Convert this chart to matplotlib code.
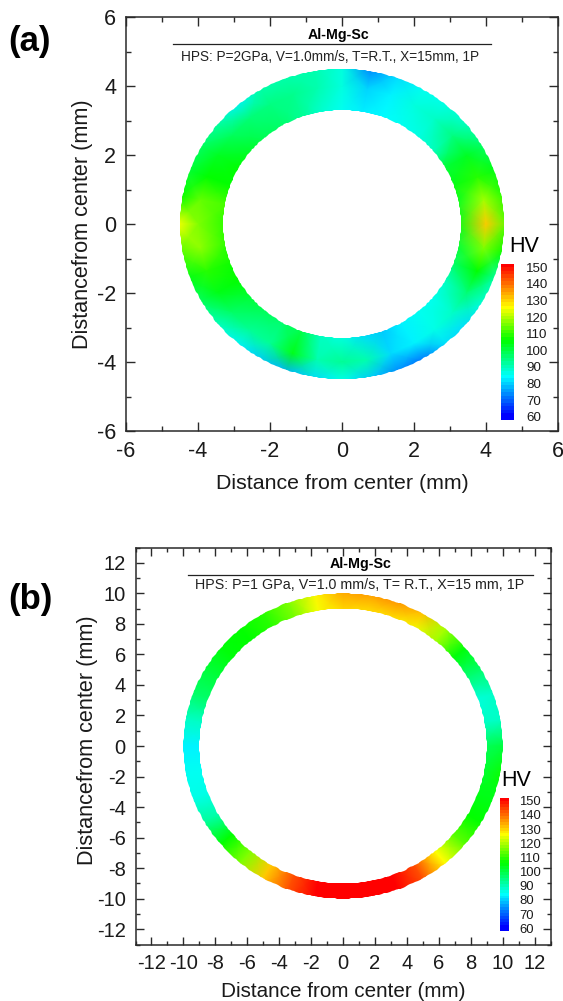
#!/usr/bin/env python3
"""Hardness maps (HV) of the Al-Mg-Sc HPS rings, 2 GPa and 1 GPa."""

import numpy as np
import matplotlib
matplotlib.use("Agg")
import matplotlib.pyplot as plt
from matplotlib.colors import LinearSegmentedColormap, Normalize
from matplotlib.patches import PathPatch
from matplotlib.path import Path
from matplotlib.ticker import MultipleLocator

plt.rcParams["font.family"] = ["Liberation Sans", "DejaVu Sans"]

# ---------------------- values ----------------------
ANGLES_DEG = list(range(0, 360, 10))

# ring (a): HV along three circles, one value per angle
A_RADII = [3.3, 4.0, 4.5]
A_INNER = [103, 102, 103, 100, 88, 85, 84, 83, 82, 84, 87, 92, 96, 98, 102, 105, 105, 110,
           108, 108, 106, 105, 101, 98, 96, 98, 88, 85, 80, 78, 82, 84, 84, 87, 95, 100]
A_MID = [130, 118, 108, 102, 94, 88, 86, 82, 79, 86, 90, 93, 94, 95, 97, 102, 105, 113,
         115, 116, 108, 103, 96, 92, 92, 103, 90, 92, 90, 80, 82, 85, 88, 95, 105, 115]
A_OUTER = [112, 108, 103, 96, 88, 85, 84, 80, 72, 86, 90, 90, 90, 82, 90, 96, 100, 105,
           125, 112, 103, 96, 88, 82, 78, 76, 80, 84, 78, 72, 70, 80, 80, 86, 90, 105]

# ring (b): HV along two circles
B_RADII = [9.0, 10.0]
B_INNER = [97, 88, 86, 95, 104, 118, 124, 127, 127, 128, 124, 114, 108, 105, 104, 100, 96, 88,
           82, 84, 85, 90, 105, 115, 130, 142, 150, 150, 150, 150, 142, 125, 112, 105, 103, 100]
B_OUTER = [100, 88, 88, 96, 104, 118, 132, 136, 135, 134, 126, 115, 108, 105, 104, 100, 96, 88,
           82, 84, 85, 92, 105, 115, 130, 142, 150, 150, 150, 150, 142, 125, 112, 105, 103, 106]

SCALE_LABELS = [60, 70, 80, 90, 100, 110, 120, 130, 140, 150]

# ------------------------------- layout --------------------------------
W, H = 563, 1001

cmap = LinearSegmentedColormap.from_list("hv", [
    (0.0, "#0000ff"), (23 / 90, "#00ffff"), (45 / 90, "#00ff00"),
    (65 / 90, "#ffff00"), (1.0, "#ff0000")])
norm = Normalize(60, 150)
dark = "#2a2a2a"


def px_axes(left, top, right, bottom):
    return fig.add_axes([left / W, 1 - bottom / H, (right - left) / W, (bottom - top) / H])


def circle_path(radius, direction):
    t = np.linspace(0, 2 * np.pi, 361)[::direction]
    return Path(np.column_stack([radius * np.cos(t), radius * np.sin(t)]), closed=True)


def ring(ax, radii, rows):
    theta = np.radians(ANGLES_DEG + [360])
    z = np.array([row + row[:1] for row in rows])
    # mesh runs a little past both edges, the clip gives the true round outline
    r = np.array(radii, dtype=float)[:, None]
    r[0] *= 0.97
    r[-1] *= 1.02
    mesh = ax.pcolormesh(r * np.cos(theta), r * np.sin(theta), z, cmap=cmap, norm=norm,
                         shading="gouraud")
    path = Path.make_compound_path(circle_path(radii[-1], 1), circle_path(radii[0], -1))
    shape = PathPatch(path, fc="none", ec="none")
    ax.add_patch(shape)
    mesh.set_clip_path(shape)


def style(ax, lim, size, major_len, pad):
    ax.set_xlim(-lim, lim)
    ax.set_ylim(-lim, lim)
    ax.xaxis.set_major_locator(MultipleLocator(2))
    ax.yaxis.set_major_locator(MultipleLocator(2))
    ax.xaxis.set_minor_locator(MultipleLocator(1))
    ax.yaxis.set_minor_locator(MultipleLocator(1))
    ax.tick_params(which="both", direction="in", top=True, right=True, width=1.0, color=dark)
    ax.tick_params(which="major", length=major_len, labelsize=size, pad=pad, labelcolor="#1a1a1a")
    ax.tick_params(which="minor", length=major_len / 2)
    for s in ax.spines.values():
        s.set_linewidth(1.1)
        s.set_color(dark)
    ax.xaxis.set_major_formatter(lambda v, _: f"{v:.0f}")
    ax.yaxis.set_major_formatter(lambda v, _: f"{v:.0f}")


def scale_bar(left, top, right, bottom, low, high, text_x, size):
    cax = px_axes(left, top, right, bottom)
    levels = np.linspace(low, high, 46)
    cax.pcolormesh([0, 1], levels, levels[:-1, None], cmap=cmap, norm=norm)
    cax.set_xticks([])
    cax.set_yticks(SCALE_LABELS)
    cax.set_ylim(low, high)
    cax.yaxis.tick_right()
    cax.tick_params(axis="y", length=0, labelsize=size, pad=(text_x - right) * 0.72,
                    labelcolor="#1a1a1a")
    for s in cax.spines.values():
        s.set_visible(False)


fig = plt.figure(figsize=(W / 100, H / 100), dpi=100)

# ---------------------------------- (a) ----------------------------------
ax = px_axes(126, 17, 558, 431)
ring(ax, A_RADII, [A_INNER, A_MID, A_OUTER])
style(ax, 6, 15.5, 6.5, 7)
ax.set_xlabel("Distance from center (mm)", fontsize=15.4, labelpad=9, color="#1a1a1a")
ax.set_ylabel("Distancefrom center (mm)", fontsize=15.6, labelpad=3, color="#1a1a1a")
ax.text(-0.1, 5.48, "Al-Mg-Sc", ha="center", va="center", fontsize=10.2, fontweight="bold")
ax.plot([-4.7, 4.13], [5.22, 5.22], color="#222222", lw=0.9)
ax.text(-0.33, 4.84, "HPS: P=2GPa, V=1.0mm/s, T=R.T., X=15mm, 1P", ha="center", va="center",
        fontsize=9.85, color="#222222")
scale_bar(501, 264, 514, 420, 58, 152, 526, 9.6)
fig.text(524 / W, 1 - 246 / H, "HV", ha="center", va="center", fontsize=15.5)
fig.text(8 / W, 1 - 41 / H, "(a)", ha="left", va="center", fontsize=25, fontweight="bold")

# ---------------------------------- (b) ----------------------------------
ax = px_axes(135.5, 547.5, 550.5, 944.5)
ring(ax, B_RADII, [B_INNER, B_OUTER])
style(ax, 13, 14.5, 5.8, 7)
ax.set_xlabel("Distance from center (mm)", fontsize=14.9, labelpad=6, color="#1a1a1a")
ax.set_ylabel("Distancefrom center (mm)", fontsize=15.6, labelpad=-1, color="#1a1a1a", y=0.515)
ax.text(1.08, 11.9, "Al-Mg-Sc", ha="center", va="center", fontsize=10.3, fontweight="bold")
ax.plot([-9.7, 11.88], [11.2, 11.2], color="#222222", lw=0.9)
ax.text(1.04, 10.56, "HPS: P=1 GPa, V=1.0 mm/s, T= R.T., X=15 mm, 1P", ha="center", va="center",
        fontsize=10.3, color="#222222")
scale_bar(500, 798, 508.5, 931, 58, 152, 519, 9.4)
fig.text(516 / W, 1 - 781 / H, "HV", ha="center", va="center", fontsize=15.5)
fig.text(8 / W, 1 - 600 / H, "(b)", ha="left", va="center", fontsize=25, fontweight="bold")

fig.savefig("out.png", dpi=100)
